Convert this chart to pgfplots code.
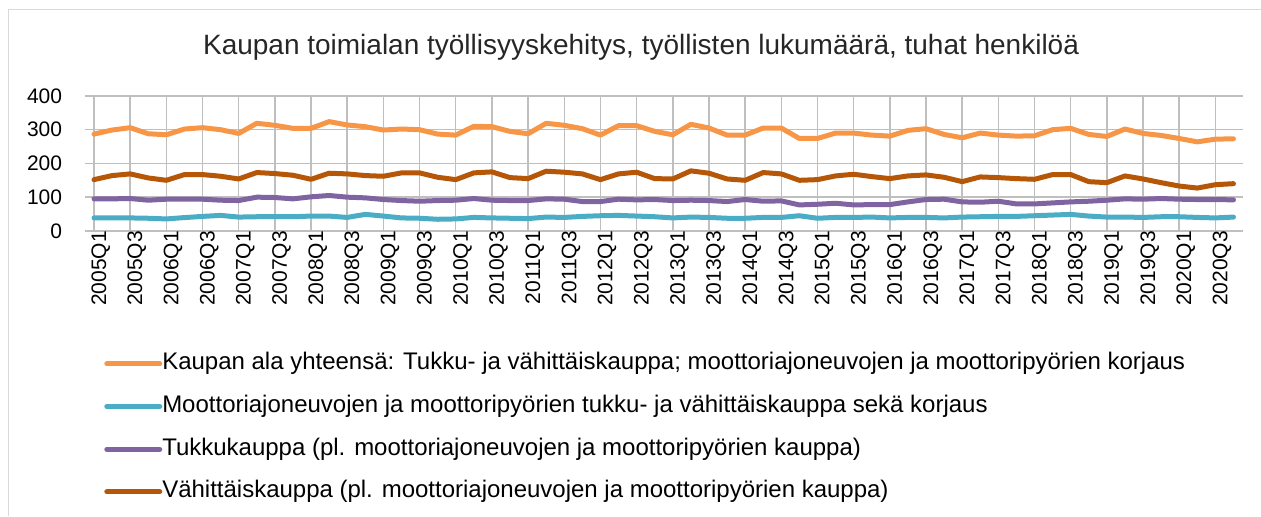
\documentclass[border=0pt]{standalone}
\usepackage{pgfplots}
\pgfplotsset{compat=1.18}
\usepackage{pgfplotstable}
\usepackage{fontspec}
\setmainfont{Liberation Sans}
\definecolor{cO}{HTML}{F79646}
\definecolor{cT}{HTML}{4BACC6}
\definecolor{cP}{HTML}{8064A2}
\definecolor{cB}{HTML}{B65708}
\definecolor{grid}{HTML}{D9D9D9}
\pgfplotstableread{
i O M T V
0 287 38.5 95 152
1 299 38.5 95 164
2 306 38.5 96 169
3 288 37.5 91 157
4 285 35.5 94 150
5 302 39.5 94 167
6 306 43 94 167
7 300 46 91 162
8 289 41 90 154
9 319 42 100 173
10 313 42 99 170
11 304 42 95 165
12 304 44 101 153
13 324 44 105 171
14 314 40 100 169
15 309 49 98 164
16 299 44 93 162
17 302 38.5 90 172
18 300 37.5 88 172
19 287 34.5 90 159
20 284 35.5 91 152
21 310 40 96 172
22 309 38.5 91 175
23 295 37.5 90 158
24 288 36.5 90 155
25 319 41 95 177
26 313 40 94 174
27 303 43 87 169
28 284 45 87 152
29 312 46 94 169
30 312 44 92 174
31 295 42 93 155
32 285 38.5 90 154
33 316 41 91 178
34 305 40 90 171
35 284 37.5 87 154
36 284 37.5 93 150
37 305 40 88 173
38 305 40 89 169
39 274 45 77 150
40 274 37.5 79 152
41 290 40 82 163
42 290 40 77 168
43 284 41 78 161
44 281 38.5 78 155
45 298 40 86 163
46 303 40 93 166
47 286 38.5 94 159
48 276 41 86 146
49 290 42 85 160
50 284 43 88 158
51 281 43 80 155
52 282 45 80 153
53 300 47 83 167
54 304 49 86 167
55 286 44 88 146
56 280 41 91 143
57 302 41 95 163
58 289 40 94 154
59 283 42 96 143
60 274 42 94 133
61 264 40 93 127
62 272 38.5 93 137
63 273 41 92 140
}\datatable
\begin{document}
\begin{tikzpicture}[x=1pt,y=1pt]
\path (0,0) rectangle (945.75,387);
\draw[grid, line width=0.75pt] (6.75,0) -- (6.75,379.5) -- (945.75,379.5);
\node[font=\fontsize{21}{25}\selectfont, text=black!85] at (481,351.75) {Kaupan toimialan työllisyyskehitys, työllisten lukumäärä, tuhat henkilöä};
\begin{axis}[
  at={(63.75pt,213.75pt)}, anchor=south west,
  width=868.5pt, height=101.25pt, scale only axis,
  xmin=-0.5, xmax=63.5, ymin=0, ymax=400,
  axis line style={draw=none},
  ytick={0,100,200,300,400},
  ymajorgrids, grid style={grid, line width=1.1pt},
  major tick length=0pt,
  xtick={0,2,...,62},
  xticklabels={2005Q1,2005Q3,2006Q1,2006Q3,2007Q1,2007Q3,2008Q1,2008Q3,2009Q1,2009Q3,2010Q1,2010Q3,2011Q1,2011Q3,2012Q1,2012Q3,2013Q1,2013Q3,2014Q1,2014Q3,2015Q1,2015Q3,2016Q1,2016Q3,2017Q1,2017Q3,2018Q1,2018Q3,2019Q1,2019Q3,2020Q1,2020Q3},
  /pgf/number format/assume math mode=true,
  tick label style={font=\fontsize{15.75}{18}\selectfont, text=black},
  xticklabel style={rotate=90, anchor=east, inner sep=0pt, yshift=-5pt},
  yticklabel style={anchor=east, inner sep=0pt, xshift=-17pt},
  legend cell align=left,
  legend image code/.code={\draw[#1] (0pt,0pt) -- (39.75pt,0pt);},
  legend style={at={(0.013,-0.88)}, anchor=north west, draw=none, fill=none,
    font=\fontsize{18}{21}\selectfont, row sep=15pt,
    nodes={inner sep=0pt, text height=13pt, text depth=4pt},
    /tikz/every even column/.append style={column sep=3pt}},
  every axis plot/.append style={line width=3.75pt, line join=round, line cap=round},
]
\addplot[cO] table[x=i,y=O]{\datatable};
\addlegendentry{Kaupan ala yhteensä: Tukku- ja vähittäiskauppa; moottoriajoneuvojen ja moottoripyörien korjaus}
\addplot[cT] table[x=i,y=M]{\datatable};
\addlegendentry{Moottoriajoneuvojen ja moottoripyörien tukku- ja vähittäiskauppa sekä korjaus}
\addplot[cP] table[x=i,y=T]{\datatable};
\addlegendentry{Tukkukauppa (pl. moottoriajoneuvojen ja moottoripyörien kauppa)}
\addplot[cB] table[x=i,y=V]{\datatable};
\addlegendentry{Vähittäiskauppa (pl. moottoriajoneuvojen ja moottoripyörien kauppa)}
\end{axis}
\end{tikzpicture}
\end{document}
